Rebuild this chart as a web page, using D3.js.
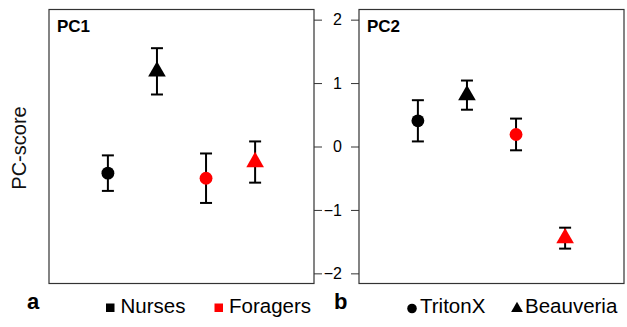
<!DOCTYPE html>
<html>
<head>
<meta charset="utf-8">
<script src="https://cdn.jsdelivr.net/npm/d3@7"></script>
<style>
  body { margin: 0; background: #fff; }
  text { font-family: "Liberation Sans", Arial, sans-serif; }
</style>
</head>
<body>
<div id="chart"></div>
<script>
// groups (x order inside each panel)
const caste = ["Nurses", "Nurses", "Foragers", "Foragers"];
const treatment = ["TritonX", "Beauveria", "TritonX", "Beauveria"];
const xPos = [1, 2, 3, 4];

// PC scores, mean and standard error
const pc1Mean = [-0.42, 1.185, -0.50, -0.245];
const pc1SE = [0.28, 0.365, 0.39, 0.325];
const pc2Mean = [0.405, 0.81, 0.19, -1.445];
const pc2SE = [0.325, 0.23, 0.25, 0.165];

const yTicks = [-2, -1, 0, 1, 2];

const width = 627, height = 327;
const panelTop = 9.5, panelBottom = 283.5;

const color = d3.scaleOrdinal()
  .domain(["Nurses", "Foragers"])
  .range(["#000000", "#ff0000"]);

const shape = d3.scaleOrdinal()
  .domain(["TritonX", "Beauveria"])
  .range([d3.symbolCircle, d3.symbolTriangle]);

const symSize = {TritonX: 130, Beauveria: 135};

const svg = d3.select("#chart")
  .append("svg")
  .attr("width", width)
  .attr("height", height);

const y = d3.scaleLinear()
  .domain([-2.16, 2.16])
  .range([panelBottom, panelTop]);

function drawPanel(left, right, label, means, ses, side) {
  const x = d3.scaleLinear()
    .domain([-0.2, 5.2])
    .range([left, right]);

  const g = svg.append("g");

  // axis between the panels
  if (side === "right") {
    g.append("g")
      .attr("transform", "translate(" + right + ",0)")
      .call(d3.axisRight(y).tickValues(yTicks).tickFormat("").tickSize(8).tickSizeOuter(0))
      .call(a => a.select(".domain").remove())
      .call(a => a.selectAll("line").attr("stroke", "#333"));
  } else {
    g.append("g")
      .attr("transform", "translate(" + left + ",0)")
      .call(d3.axisLeft(y).tickValues(yTicks).tickFormat(d3.format("d"))
        .tickSize(8).tickSizeOuter(0).tickPadding(9))
      .call(a => a.select(".domain").remove())
      .call(a => a.selectAll("line").attr("stroke", "#333"))
      .call(a => a.selectAll("text")
        .attr("font-size", 16)
        .attr("fill", "#000")
        .attr("font-family", "'Liberation Sans', Arial, sans-serif"));
  }

  // frame
  g.append("rect")
    .attr("x", left)
    .attr("y", panelTop)
    .attr("width", right - left)
    .attr("height", panelBottom - panelTop)
    .attr("fill", "none")
    .attr("stroke", "#333")
    .attr("stroke-width", 1.2);

  g.append("text")
    .attr("x", left + 8)
    .attr("y", panelTop + 22)
    .attr("font-size", 17)
    .attr("font-weight", "bold")
    .text(label);

  const pts = g.selectAll(".pt")
    .data(xPos.map((p, i) => ({p: p, m: means[i], se: ses[i], c: caste[i], t: treatment[i]})))
    .enter()
    .append("g")
    .attr("class", "pt");

  // error bars
  pts.append("line")
    .attr("x1", d => x(d.p)).attr("x2", d => x(d.p))
    .attr("y1", d => y(d.m + d.se)).attr("y2", d => y(d.m - d.se))
    .attr("stroke", "#000").attr("stroke-width", 2);
  [1, -1].forEach(s => {
    pts.append("line")
      .attr("x1", d => x(d.p) - 6).attr("x2", d => x(d.p) + 6)
      .attr("y1", d => y(d.m + s * d.se)).attr("y2", d => y(d.m + s * d.se))
      .attr("stroke", "#000").attr("stroke-width", 2);
  });

  pts.append("path")
    .attr("transform", d => "translate(" + x(d.p) + "," + y(d.m) + ")")
    .attr("d", d => d3.symbol().type(shape(d.t)).size(symSize[d.t])())
    .attr("fill", d => color(d.c));
}

drawPanel(49, 314, "PC1", pc1Mean, pc1SE, "right");
drawPanel(359, 624, "PC2", pc2Mean, pc2SE, "left");

// y label
svg.append("text")
  .attr("transform", "translate(26,148) rotate(-90)")
  .attr("text-anchor", "middle")
  .attr("font-size", 20)
  .attr("fill", "#111")
  .text("PC-score");

// panel letters
svg.append("text").attr("x", 27).attr("y", 309)
  .attr("font-size", 22).attr("font-weight", "bold").text("a");
svg.append("text").attr("x", 334).attr("y", 309)
  .attr("font-size", 22).attr("font-weight", "bold").text("b");

// legends
const legendA = svg.append("g");
const casteX = [106, 214.5];
color.domain().forEach((c, i) => {
  legendA.append("rect")
    .attr("x", casteX[i]).attr("y", 303.5)
    .attr("width", 8.5).attr("height", 8.5)
    .attr("fill", color(c));
  legendA.append("text")
    .attr("x", casteX[i] + 14.5).attr("y", 313)
    .attr("font-size", 20.5)
    .attr("fill", "#000")
    .text(c);
});

const legendB = svg.append("g");
const treatX = [412, 517];
const legSize = {TritonX: 72, Beauveria: 60};
shape.domain().forEach((t, i) => {
  legendB.append("path")
    .attr("transform", "translate(" + treatX[i] + "," + 308.5 + ")")
    .attr("d", d3.symbol().type(shape(t)).size(legSize[t])())
    .attr("fill", "#000");
  legendB.append("text")
    .attr("x", treatX[i] + 8).attr("y", 313)
    .attr("font-size", 20.5)
    .attr("fill", "#000")
    .text(t);
});
</script>
</body>
</html>
